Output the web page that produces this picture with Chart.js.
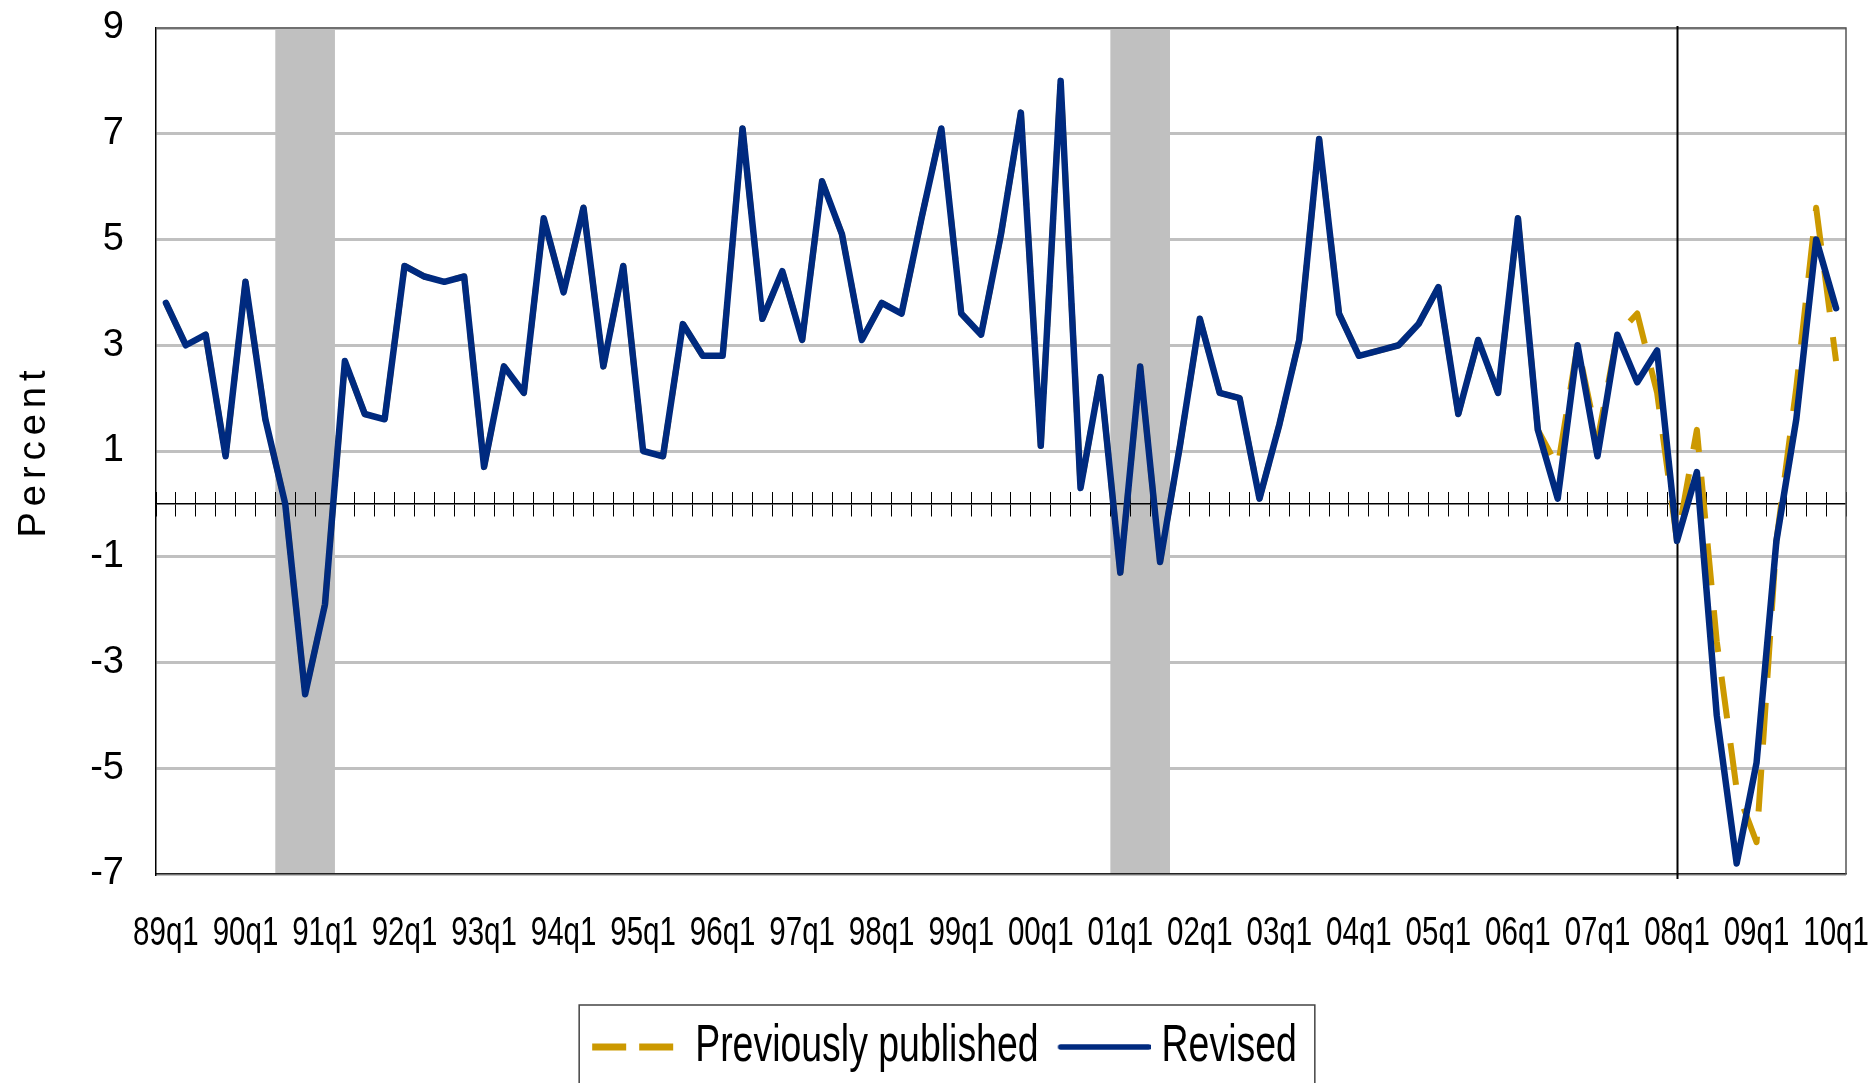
<!DOCTYPE html>
<html lang="en">
<head>
<meta charset="UTF-8" />
<title>Real GDP growth: previously published and revised</title>
<script src="https://cdn.jsdelivr.net/npm/chart.js@4.4.1/dist/chart.umd.min.js"></script>
<style>
  html, body { margin: 0; padding: 0; background: #fff; }
</style>
</head>
<body>
<canvas id="chart" width="1872" height="1083"></canvas>
<script>
// quarters on the x axis (only the q1 ones get a label)
const quarters = [
  '89q1','89q2','89q3','89q4','90q1','90q2','90q3','90q4','91q1','91q2','91q3','91q4',
  '92q1','92q2','92q3','92q4','93q1','93q2','93q3','93q4','94q1','94q2','94q3','94q4',
  '95q1','95q2','95q3','95q4','96q1','96q2','96q3','96q4','97q1','97q2','97q3','97q4',
  '98q1','98q2','98q3','98q4','99q1','99q2','99q3','99q4','00q1','00q2','00q3','00q4',
  '01q1','01q2','01q3','01q4','02q1','02q2','02q3','02q4','03q1','03q2','03q3','03q4',
  '04q1','04q2','04q3','04q4','05q1','05q2','05q3','05q4','06q1','06q2','06q3','06q4',
  '07q1','07q2','07q3','07q4','08q1','08q2','08q3','08q4','09q1','09q2','09q3','09q4',
  '10q1'
];

const revised = [
  3.8, 3.0, 3.2, 0.9, 4.2, 1.6, 0.0, -3.6, -1.9, 2.7, 1.7, 1.6,
  4.5, 4.3, 4.2, 4.3, 0.7, 2.6, 2.1, 5.4, 4.0, 5.6, 2.6, 4.5,
  1.0, 0.9, 3.4, 2.8, 2.8, 7.1, 3.5, 4.4, 3.1, 6.1, 5.1, 3.1,
  3.8, 3.6, 5.4, 7.1, 3.6, 3.2, 5.1, 7.4, 1.1, 8.0, 0.3, 2.4,
  -1.3, 2.6, -1.1, 1.1, 3.5, 2.1, 2.0, 0.1, 1.5, 3.1, 6.9, 3.6,
  2.8, 2.9, 3.0, 3.4, 4.1, 1.7, 3.1, 2.1, 5.4, 1.4, 0.1, 3.0,
  0.9, 3.2, 2.3, 2.9, -0.7, 0.6, -4.0, -6.8, -4.9, -0.7, 1.6, 5.0,
  3.7
];

const previous = [
  3.8, 3.0, 3.2, 0.9, 4.2, 1.6, 0.0, -3.6, -1.9, 2.7, 1.7, 1.6,
  4.5, 4.3, 4.2, 4.3, 0.7, 2.6, 2.1, 5.4, 4.0, 5.6, 2.6, 4.5,
  1.0, 0.9, 3.4, 2.8, 2.8, 7.1, 3.5, 4.4, 3.1, 6.1, 5.1, 3.1,
  3.8, 3.6, 5.4, 7.1, 3.6, 3.2, 5.1, 7.4, 1.1, 8.0, 0.3, 2.4,
  -1.3, 2.6, -1.1, 1.1, 3.5, 2.1, 2.0, 0.1, 1.5, 3.1, 6.9, 3.6,
  2.8, 2.9, 3.0, 3.4, 4.1, 1.7, 3.1, 2.1, 5.4, 1.4, 0.7, 3.0,
  1.2, 3.2, 3.6, 2.1, -0.7, 1.4, -2.6, -5.4, -6.4, -0.7, 2.2, 5.6,
  2.7
];

// shaded recessions (first and last quarter) and the revision marker
const recessions = [['90q3', '91q1'], ['01q1', '01q3']];
const markerQuarter = '08q1';

const GOLD = '#cc9900';
const BLUE = '#002a7f';

// the original uses a squeezed Arial for the axis dates and the legend;
// no narrow face is installed, so text whose font names "Narrow" is squeezed by hand
const NARROW = "'Liberation Sans Narrow', 'Liberation Sans', Arial, sans-serif";
const REGULAR = "'Liberation Sans', Arial, sans-serif";
const SQUEEZE = 0.72;
const proto = CanvasRenderingContext2D.prototype;
const rawFill = proto.fillText;
const rawMeasure = proto.measureText;
proto.fillText = function (text, x, y, maxWidth) {
    if (this.font.indexOf('Narrow') < 0) {
        return maxWidth === undefined ? rawFill.call(this, text, x, y) : rawFill.call(this, text, x, y, maxWidth);
    }
    this.save();
    this.translate(x, y);
    this.scale(SQUEEZE, 1);
    rawFill.call(this, text, 0, 0);
    this.restore();
};
proto.measureText = function (text) {
    const m = rawMeasure.call(this, text);
    if (this.font.indexOf('Narrow') < 0) return m;
    return {
        width: m.width * SQUEEZE,
        actualBoundingBoxLeft: m.actualBoundingBoxLeft * SQUEEZE,
        actualBoundingBoxRight: m.actualBoundingBoxRight * SQUEEZE,
        actualBoundingBoxAscent: m.actualBoundingBoxAscent,
        actualBoundingBoxDescent: m.actualBoundingBoxDescent,
        fontBoundingBoxAscent: m.fontBoundingBoxAscent,
        fontBoundingBoxDescent: m.fontBoundingBoxDescent
    };
};

// legend samples (drawn centred on the legend box)
function sample(width, draw) {
    const c = document.createElement('canvas');
    c.width = width;
    c.height = 10;
    draw(c.getContext('2d'));
    return c;
}
const goldSample = sample(90, g => {
    g.fillStyle = GOLD;
    g.fillRect(8, 1.5, 34, 7);
    g.fillRect(55, 1.5, 34, 7);
});
const blueSample = sample(110, g => {
    g.strokeStyle = BLUE;
    g.lineWidth = 5.5;
    g.lineCap = 'round';
    g.beginPath();
    g.moveTo(20, 5);
    g.lineTo(108, 5);
    g.stroke();
});

const extras = {
    id: 'extras',
    afterLayout(chart) {
        // spread the letters of the y title a bit
        const y = chart.scales.y;
        if (!y._spaced) {
            const draw = y.drawTitle;
            y.drawTitle = function () {
                this.ctx.save();
                this.ctx.letterSpacing = '6px';
                draw.call(this);
                this.ctx.restore();
            };
            y._spaced = true;
        }
    },
    beforeDraw(chart) {
        const {ctx, chartArea, scales: {x}} = chart;
        ctx.save();
        ctx.fillStyle = '#c0c0c0';
        recessions.forEach(([a, b]) => {
            const x0 = x.getPixelForValue(quarters.indexOf(a) - 0.5);
            const x1 = x.getPixelForValue(quarters.indexOf(b) + 0.5);
            ctx.fillRect(x0, chartArea.top, x1 - x0, chartArea.bottom - chartArea.top);
        });
        ctx.restore();
    },
    beforeDatasetsDraw(chart) {
        const {ctx, chartArea, scales: {x}} = chart;
        ctx.save();
        // frame
        ctx.strokeStyle = '#555';
        ctx.lineWidth = 1.5;
        ctx.beginPath();
        ctx.moveTo(chartArea.left, chartArea.top);
        ctx.lineTo(chartArea.right, chartArea.top);
        ctx.lineTo(chartArea.right, chartArea.bottom);
        ctx.stroke();
        // vertical marker line
        const mx = Math.round(x.getPixelForValue(quarters.indexOf(markerQuarter))) + 0.5;
        ctx.strokeStyle = '#000';
        ctx.lineWidth = 2;
        ctx.beginPath();
        ctx.moveTo(mx, chartArea.top - 2);
        ctx.lineTo(mx, chartArea.bottom + 5);
        ctx.stroke();
        ctx.restore();
    },
    afterDraw(chart) {
        // box round the legend
        const boxes = chart.legend.legendHitBoxes;
        if (!boxes || !boxes.length) return;
        const first = boxes[0], last = boxes[boxes.length - 1];
        const ctx = chart.ctx;
        ctx.save();
        ctx.strokeStyle = '#444';
        ctx.lineWidth = 1.5;
        const left = first.left - 10, right = last.left + last.width + 18;
        const top = first.top + first.height / 2 - 42;
        ctx.strokeRect(left, top, right - left, chart.height - top + 10);
        ctx.restore();
    }
};

const ctx = document.getElementById('chart').getContext('2d');
new Chart(ctx, {
    type: 'line',
    data: {
        labels: quarters,
        datasets: [{
            label: 'Previously published',
            data: previous,
            borderColor: GOLD,
            backgroundColor: GOLD,
            borderWidth: 6,
            borderDash: [42, 25],
            borderCapStyle: 'butt',
            borderJoinStyle: 'round',
            pointRadius: 0,
            pointStyle: goldSample,
            tension: 0,
            fill: false,
            order: 2
        }, {
            label: 'Revised',
            data: revised,
            borderColor: BLUE,
            backgroundColor: BLUE,
            borderWidth: 6.5,
            borderCapStyle: 'round',
            borderJoinStyle: 'round',
            pointRadius: 0,
            pointStyle: blueSample,
            tension: 0,
            fill: false,
            order: 1
        }]
    },
    options: {
        responsive: false,
        animation: false,
        devicePixelRatio: 1,
        layout: { padding: { top: 28, right: 26, bottom: 0, left: 40 } },
        plugins: {
            tooltip: { enabled: false },
            legend: {
                position: 'bottom',
                labels: {
                    usePointStyle: true,
                    pointStyleWidth: 80,
                    font: { family: NARROW, size: 52 },
                    color: '#000',
                    padding: 17,
                    sort: (a, b) => a.datasetIndex - b.datasetIndex
                }
            }
        },
        scales: {
            x: {
                type: 'category',
                offset: true,
                grid: { display: false },
                border: { display: true, color: '#222', width: 1.5 },
                ticks: {
                    autoSkip: false,
                    maxRotation: 0,
                    padding: 27,
                    color: '#000',
                    font: { family: NARROW, size: 41 },
                    callback: function (value, index) {
                        return index % 4 === 0 ? quarters[index] : '';
                    }
                },
                afterFit(scale) {
                    scale.height = scale.chart.height - scale.chart.legend.height - 874;
                    scale.paddingLeft = 0;
                    scale.paddingRight = 0;
                }
            },
            xZeroDown: {
                type: 'category',
                axis: 'x',
                labels: quarters,
                position: { y: 0 },
                offset: true,
                grid: { display: true, drawOnChartArea: false, drawTicks: true, tickLength: 12, offset: true, color: '#000', lineWidth: 1 },
                border: { display: true, color: '#000', width: 1.5 },
                ticks: { display: false }
            },
            xZeroUp: {
                type: 'category',
                axis: 'x',
                labels: quarters,
                position: { y: 0 },
                offset: true,
                grid: { display: true, drawOnChartArea: false, drawTicks: true, tickLength: -12, offset: true, color: '#000', lineWidth: 1 },
                border: { display: false },
                ticks: { display: false }
            },
            y: {
                min: -7,
                max: 9,
                ticks: {
                    stepSize: 2,
                    padding: 32,
                    color: '#000',
                    font: { family: REGULAR, size: 38 }
                },
                grid: { color: '#c0c0c0', lineWidth: 3, drawTicks: false },
                border: { display: true, color: '#000', width: 1.5 },
                title: {
                    display: true,
                    text: 'Percent',
                    color: '#000',
                    font: { family: REGULAR, size: 38 },
                    padding: { top: -28, bottom: 0 }
                },
                afterFit(scale) {
                    scale.width = 116;
                    scale.paddingTop = 0;
                    scale.paddingBottom = 0;
                }
            }
        }
    },
    plugins: [extras]
});
</script>
</body>
</html>
